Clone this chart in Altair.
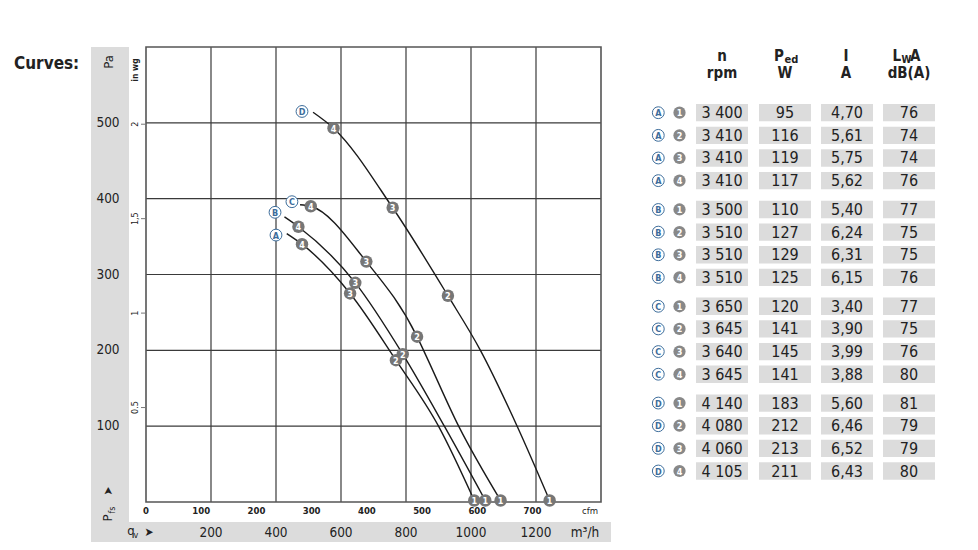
import altair as alt
import pandas as pd

FONT = "Liberation Sans Narrow, DejaVu Sans Condensed, Roboto, sans-serif"

# ---------------- data ----------------
fan_ids = ["A", "B", "C", "D"]
letter_q = [400, 397, 449, 480]          # m3/h position of the curve letter tag
letter_p = [352, 382, 396, 515]          # Pa

curve_q = {
    "A": [433, 480, 628, 769, 900, 1010],
    "B": [426, 469, 644, 790, 918, 1044],
    "C": [474, 507, 678, 834, 854, 962, 1091],
    "D": [514, 577, 759, 929, 1029, 1142, 1242],
}
curve_p = {
    "A": [354, 340, 275, 187, 100, 2],
    "B": [376, 363, 289, 195, 100, 2],
    "C": [392, 390, 317, 218, 200, 100, 2],
    "D": [514, 493, 388, 272, 200, 100, 2],
}
curve_pt = {
    "A": ["", "4", "3", "2", "", "1"],
    "B": ["", "4", "3", "2", "", "1"],
    "C": ["", "4", "3", "2", "", "", "1"],
    "D": ["", "4", "3", "2", "", "", "1"],
}

pa_ticks = [100, 200, 300, 400, 500]
m3h_ticks = [200, 400, 600, 800, 1000, 1200]
cfm_ticks = [0, 100, 200, 300, 400, 500, 600, 700]
inwg_ticks = [0.5, 1, 1.5, 2]
inwg_labels = ["0.5", "1", "1,5", "2"]

tbl_fan = ["A"] * 4 + ["B"] * 4 + ["C"] * 4 + ["D"] * 4
tbl_pt = ["1", "2", "3", "4"] * 4
tbl_n = ["3 400", "3 410", "3 410", "3 410", "3 500", "3 510", "3 510", "3 510",
         "3 650", "3 645", "3 640", "3 645", "4 140", "4 080", "4 060", "4 105"]
tbl_P = ["95", "116", "119", "117", "110", "127", "129", "125",
         "120", "141", "145", "141", "183", "212", "213", "211"]
tbl_I = ["4,70", "5,61", "5,75", "5,62", "5,40", "6,24", "6,31", "6,15",
         "3,40", "3,90", "3,99", "3,88", "5,60", "6,46", "6,52", "6,43"]
tbl_L = ["76", "74", "74", "76", "77", "75", "75", "76",
         "77", "75", "76", "80", "81", "79", "79", "80"]

# ---------------- frames ----------------
rows = []
for f in fan_ids:
    for i, (q, p, t) in enumerate(zip(curve_q[f], curve_p[f], curve_pt[f])):
        rows.append({"fan": f, "q": q, "p": p, "ord": i, "pt": t})
curves = pd.DataFrame(rows)
letters = pd.DataFrame({"fan": fan_ids, "q": letter_q, "p": letter_p})
table = pd.DataFrame({"fan": tbl_fan, "pt": tbl_pt, "n": tbl_n, "P": tbl_P,
                      "I": tbl_I, "L": tbl_L})
table["idx"] = range(len(table))
ONE = pd.DataFrame({"k": [0]})

# ---------------- scales ----------------
XS = alt.Scale(domain=[0, 1400], range=[138, 593], nice=False, zero=False)
YS = alt.Scale(domain=[0, 600], range=[494, 39], nice=False, zero=False)
TY = alt.Scale(domain=[0, 15.822], range=[104.7, 463], nice=False, zero=False)
X = alt.X("q:Q", scale=XS, axis=None)
Y = alt.Y("p:Q", scale=YS, axis=None)

GRAY = "#dcdcdc"
INK = "#222222"
BLUE = "#3d6d9b"
DOT = "#767676"


def label(text, x, y, size=13, weight="normal", color=INK, angle=0,
          align="center", baseline="middle"):
    return alt.Chart(ONE).mark_text(
        text=text, fontSize=size, fontWeight=weight, color=color, angle=angle,
        align=align, baseline=baseline, font=FONT
    ).encode(x=alt.value(x), y=alt.value(y))


def box(x0, x1, y0, y1, color):
    return alt.Chart(ONE).mark_rect(color=color).encode(
        x=alt.value(x0), x2=alt.value(x1), y=alt.value(y0), y2=alt.value(y1))


layers = []
# gray bands
layers.append(box(83, 121, 39, 538, GRAY))
layers.append(box(83, 603, 514, 538, GRAY))

# grid
layers.append(alt.Chart(pd.DataFrame({"q": m3h_ticks})).mark_rule(
    color="#3a3a3a", strokeWidth=1.2).encode(x=X, y=alt.value(39), y2=alt.value(494)))
layers.append(alt.Chart(pd.DataFrame({"p": pa_ticks})).mark_rule(
    color="#3a3a3a", strokeWidth=1.2).encode(y=Y, x=alt.value(138), x2=alt.value(593)))
layers.append(alt.Chart(pd.DataFrame({"q": [0], "q2": [1400], "p": [0], "p2": [600]})).mark_rect(
    fillOpacity=0, stroke="#555555", strokeWidth=1.6).encode(
    x=X, x2="q2:Q", y=Y, y2="p2:Q"))

# y axis Pa labels
layers.append(alt.Chart(pd.DataFrame({"p": pa_ticks})).mark_text(
    fontSize=13.5, color=INK, font=FONT).encode(
    y=Y, x=alt.value(100), text=alt.Text("p:Q", format="d")))
# in wg ticks and labels
inwg = pd.DataFrame({"w": inwg_ticks, "t": inwg_labels})
layers.append(alt.Chart(inwg).transform_calculate(p="datum.w*249.09").mark_rule(
    color="#777", strokeWidth=1).encode(y=Y, x=alt.value(133), x2=alt.value(137)))
layers.append(alt.Chart(inwg).transform_calculate(p="datum.w*249.09").mark_text(
    fontSize=9, color=INK, angle=270, font=FONT).encode(
    y=Y, x=alt.value(127), text="t:N"))
layers.append(label("Pa", 100.5, 54, size=13, angle=270))
layers.append(label("in wg", 127, 62, size=8.5, weight="bold", angle=270))

# x axis labels
layers.append(alt.Chart(pd.DataFrame({"c": cfm_ticks})).transform_calculate(
    q="datum.c*1.699").mark_text(fontSize=9.5, fontWeight="bold", color=INK, font=FONT).encode(
    x=X, y=alt.value(503), text=alt.Text("c:Q", format="d")))
layers.append(label("cfm", 582, 503, size=9.5))
layers.append(alt.Chart(pd.DataFrame({"q": m3h_ticks})).mark_text(
    fontSize=13.5, color=INK, font=FONT).encode(
    x=X, y=alt.value(525), text=alt.Text("q:Q", format="d")))
layers.append(label("m³/h", 577, 525, size=13.5))

# axis symbols
layers.append(label("P", 100, 510, size=13, angle=270))
layers.append(label("fs", 104, 502, size=9, angle=270))
layers.append(label("➤", 100, 483, size=12, angle=270))
layers.append(label("q", 123, 523, size=13))
layers.append(label("v", 128, 527, size=9))
layers.append(label("➤", 141, 524, size=12))

layers.append(label("Curves:", 6, 56, size=17, weight="bold", align="left"))

# curves
layers.append(alt.Chart(curves).mark_line(
    interpolate="monotone", color="#1a1a1a", strokeWidth=1.4).encode(
    x=X, y=Y, detail="fan:N", order="ord:Q"))
pts = alt.Chart(curves).transform_filter("datum.pt != ''")
layers.append(pts.mark_circle(size=155, color=DOT, opacity=1).encode(x=X, y=Y))
layers.append(pts.mark_text(fontSize=9, fontWeight="bold", color="white", font=FONT, dy=0.5).encode(
    x=X, y=Y, text="pt:N"))
layers.append(alt.Chart(letters).mark_point(
    shape="circle", size=140, filled=True, fill="white", stroke=BLUE, strokeWidth=1,
    opacity=1).encode(x=X, y=Y))
layers.append(alt.Chart(letters).mark_text(
    fontSize=9, fontWeight="bold", color=BLUE, font=FONT, dy=0.5).encode(x=X, y=Y, text="fan:N"))

# table
tb = alt.Chart(table).transform_calculate(
    rp="datum.idx + floor(datum.idx/4)*0.274",
    r1="datum.idx + floor(datum.idx/4)*0.274 - 0.383",
    r2="datum.idx + floor(datum.idx/4)*0.274 + 0.383")
TYR = alt.Y("rp:Q", scale=TY, axis=None)
cols = [("n", 688, 740), ("P", 751, 803), ("I", 813, 865), ("L", 875, 927)]
for c, x0, x1 in cols:
    layers.append(tb.mark_rect(color=GRAY).encode(
        x=alt.value(x0), x2=alt.value(x1),
        y=alt.Y("r1:Q", scale=TY, axis=None), y2="r2:Q"))
    layers.append(tb.mark_text(fontSize=16, color=INK, font=FONT, dy=0.5).encode(
        x=alt.value((x0 + x1) / 2), y=TYR, text=f"{c}:N"))
layers.append(tb.mark_point(shape="circle", size=140, filled=True, fill="white",
                            stroke=BLUE, strokeWidth=1, opacity=1).encode(
    x=alt.value(650.3), y=TYR))
layers.append(tb.mark_text(fontSize=9, fontWeight="bold", color=BLUE, font=FONT, dy=0.5).encode(
    x=alt.value(650.3), y=TYR, text="fan:N"))
layers.append(tb.mark_circle(size=150, color="#888888", opacity=1).encode(
    x=alt.value(671.5), y=TYR))
layers.append(tb.mark_text(fontSize=9, fontWeight="bold", color="white", font=FONT, dy=0.5).encode(
    x=alt.value(671.5), y=TYR, text="pt:N"))

# table headers
layers.append(label("n", 714, 48, size=15, weight="bold"))
layers.append(label("rpm", 714, 65, size=15, weight="bold"))
layers.append(label("P", 776, 48, size=15, weight="bold", align="right"))
layers.append(label("ed", 776.5, 52, size=11, weight="bold", align="left"))
layers.append(label("W", 777, 65, size=15, weight="bold"))
layers.append(label("I", 838, 48, size=15, weight="bold"))
layers.append(label("A", 838, 65, size=15, weight="bold"))
layers.append(label("L", 893, 48, size=15, weight="bold", align="right"))
layers.append(label("W", 893.5, 52, size=10, weight="bold", align="left"))
layers.append(label("A", 902, 48, size=15, weight="bold", align="left"))
layers.append(label("dB(A)", 901, 65, size=15, weight="bold"))

chart = alt.layer(*layers).resolve_scale(x="independent", y="independent").properties(
    width=962, height=534, autosize=alt.AutoSizeParams(type="none"), padding=0
).configure_view(stroke=None)

chart.save("out.html", embed_options={"renderer": "svg", "actions": False})
